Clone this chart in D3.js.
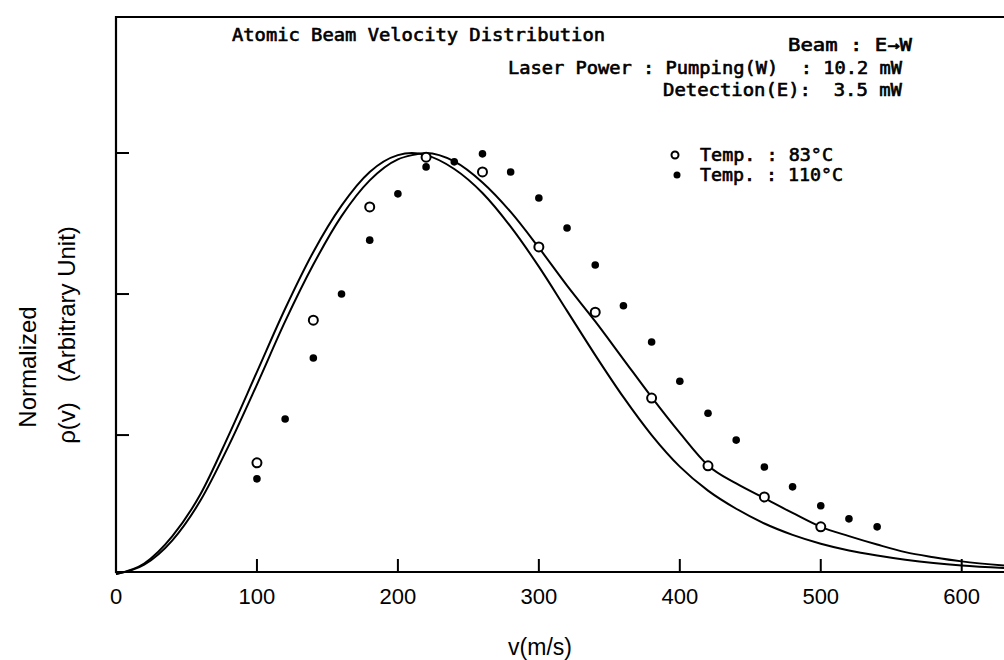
<!DOCTYPE html>
<html>
<head>
<meta charset="utf-8">
<script src="https://cdn.jsdelivr.net/npm/d3@7"></script>
<style>
  body { margin: 0; background: #fff; }
  .plot { font-family: "DejaVu Sans Mono", monospace; stroke: #000; stroke-width: 0.6px; }
  .axlab { font-family: "Liberation Sans", Arial, sans-serif; }
</style>
</head>
<body>
<svg width="1004" height="660"></svg>
<script>
// velocity grid for the two fitted curves (m/s)
var curveV = [0, 20, 40, 60, 80, 100, 120, 140, 160, 180, 200, 210, 220, 240, 260, 280, 300, 320,
  340, 360, 380, 400, 420, 440, 460, 480, 500, 520, 540, 560, 580, 600, 630];
var curveA = [0, 0.025, 0.09, 0.19, 0.33, 0.48, 0.63, 0.765, 0.875, 0.955, 0.995, 1.0, 0.995, 0.962,
  0.905, 0.825, 0.73, 0.625, 0.52, 0.42, 0.33, 0.255, 0.198, 0.155, 0.12, 0.093, 0.072, 0.056,
  0.044, 0.034, 0.026, 0.02, 0.014];
var curveB = [0, 0.022, 0.08, 0.175, 0.305, 0.45, 0.6, 0.735, 0.85, 0.935, 0.985, 0.995, 1.0, 0.98,
  0.93, 0.86, 0.775, 0.685, 0.6, 0.51, 0.42, 0.335, 0.258, 0.215, 0.18, 0.145, 0.112, 0.09,
  0.07, 0.052, 0.04, 0.03, 0.02];

// measured points, 83 C (open circles)
var v83 = [100, 140, 180, 220, 260, 300, 340, 380, 420, 460, 500];
var p83 = [0.264, 0.603, 0.872, 0.99, 0.955, 0.777, 0.622, 0.418, 0.257, 0.183, 0.112];

// measured points, 110 C (filled dots)
var v110 = [100, 120, 140, 160, 180, 200, 220, 240, 260, 280, 300, 320, 340, 360, 380, 400,
  420, 440, 460, 480, 500, 520, 540];
var p110 = [0.226, 0.368, 0.513, 0.665, 0.793, 0.903, 0.967, 0.979, 0.998, 0.955, 0.893, 0.822,
  0.734, 0.637, 0.551, 0.458, 0.382, 0.318, 0.254, 0.207, 0.162, 0.131, 0.112];

var xTicks = [0, 100, 200, 300, 400, 500, 600];
var yTicks = [0.33, 0.665, 1.0];

var svg = d3.select("svg"),
  mLeft = 116, mRight = 1004, mTop = 17, mBottom = 572;

var x = d3.scaleLinear().domain([0, 630]).range([mLeft, mRight]);
var y = d3.scaleLinear().domain([0, 1]).range([mBottom + 2, 153]);

var g = svg.append("g");

// frame: top line, left axis, bottom axis (no right edge)
g.append("path")
  .attr("d", "M" + mRight + "," + mTop + "H" + mLeft + "V" + mBottom + "H" + mRight)
  .attr("fill", "none")
  .attr("stroke", "#000")
  .attr("stroke-width", 2.2);

// ticks (inside)
g.selectAll(".xt")
  .data(xTicks.slice(1))
  .enter().append("line")
  .attr("x1", function(d) { return x(d); })
  .attr("x2", function(d) { return x(d); })
  .attr("y1", mBottom)
  .attr("y2", mBottom - 13)
  .attr("stroke", "#000")
  .attr("stroke-width", 2);

g.selectAll(".yt")
  .data(yTicks)
  .enter().append("line")
  .attr("x1", mLeft)
  .attr("x2", mLeft + 13)
  .attr("y1", function(d) { return y(d); })
  .attr("y2", function(d) { return y(d); })
  .attr("stroke", "#000")
  .attr("stroke-width", 2);

// tick labels
g.selectAll(".xl")
  .data(xTicks)
  .enter().append("text")
  .attr("class", "axlab")
  .attr("x", function(d) { return x(d); })
  .attr("y", 604)
  .attr("text-anchor", "middle")
  .style("font-size", "22px")
  .text(function(d) { return d; });

g.append("text")
  .attr("class", "axlab")
  .attr("x", 540)
  .attr("y", 655)
  .attr("text-anchor", "middle")
  .style("font-size", "23px")
  .text("v(m/s)");

g.append("text")
  .attr("class", "axlab")
  .attr("transform", "translate(36,367) rotate(-90)")
  .attr("text-anchor", "middle")
  .style("font-size", "24px")
  .text("Normalized");

g.append("text")
  .attr("class", "axlab")
  .attr("transform", "translate(75,335) rotate(-90)")
  .attr("text-anchor", "middle")
  .style("font-size", "24px")
  .style("white-space", "pre")
  .text("\u03C1(v)   (Arbitrary Unit)");

// fitted curves
var line = d3.line()
  .curve(d3.curveMonotoneX)
  .x(function(d) { return x(d[0]); })
  .y(function(d) { return y(d[1]); });

[curveA, curveB].forEach(function(c) {
  g.append("path")
    .datum(d3.zip(curveV, c))
    .attr("fill", "none")
    .attr("stroke", "#000")
    .attr("stroke-width", 2)
    .attr("d", line);
});

// data points
g.selectAll(".p110")
  .data(d3.zip(v110, p110))
  .enter().append("circle")
  .attr("cx", function(d) { return x(d[0]); })
  .attr("cy", function(d) { return y(d[1]); })
  .attr("r", 3.8)
  .attr("fill", "#000");

g.selectAll(".p83")
  .data(d3.zip(v83, p83))
  .enter().append("circle")
  .attr("cx", function(d) { return x(d[0]); })
  .attr("cy", function(d) { return y(d[1]); })
  .attr("r", 4.5)
  .attr("fill", "#fff")
  .attr("stroke", "#000")
  .attr("stroke-width", 2);

// plotter text block
var notes = [
  {t: "Atomic Beam Velocity Distribution", x: 232, y: 41, w: 373},
  {t: "Beam : E\u2192W", x: 788, y: 51, w: 124},
  {t: "Laser Power : Pumping(W)  : 10.2 mW", x: 508, y: 74, w: 394},
  {t: "Detection(E):  3.5 mW", x: 663, y: 96, w: 239},
  {t: "Temp. : 83\u00B0C", x: 700, y: 161, w: 133},
  {t: "Temp. : 110\u00B0C", x: 700, y: 181, w: 143}
];

g.selectAll(".note")
  .data(notes)
  .enter().append("text")
  .attr("class", "plot")
  .attr("x", function(d) { return d.x; })
  .attr("y", function(d) { return d.y; })
  .attr("textLength", function(d) { return d.w; })
  .attr("lengthAdjust", "spacingAndGlyphs")
  .style("font-size", "17px")
  .style("white-space", "pre")
  .text(function(d) { return d.t; });

// legend markers
g.append("circle").attr("cx", 675).attr("cy", 155).attr("r", 3.5)
  .attr("fill", "#fff").attr("stroke", "#000").attr("stroke-width", 2);
g.append("circle").attr("cx", 677).attr("cy", 175).attr("r", 3.5).attr("fill", "#000");
</script>
</body>
</html>
